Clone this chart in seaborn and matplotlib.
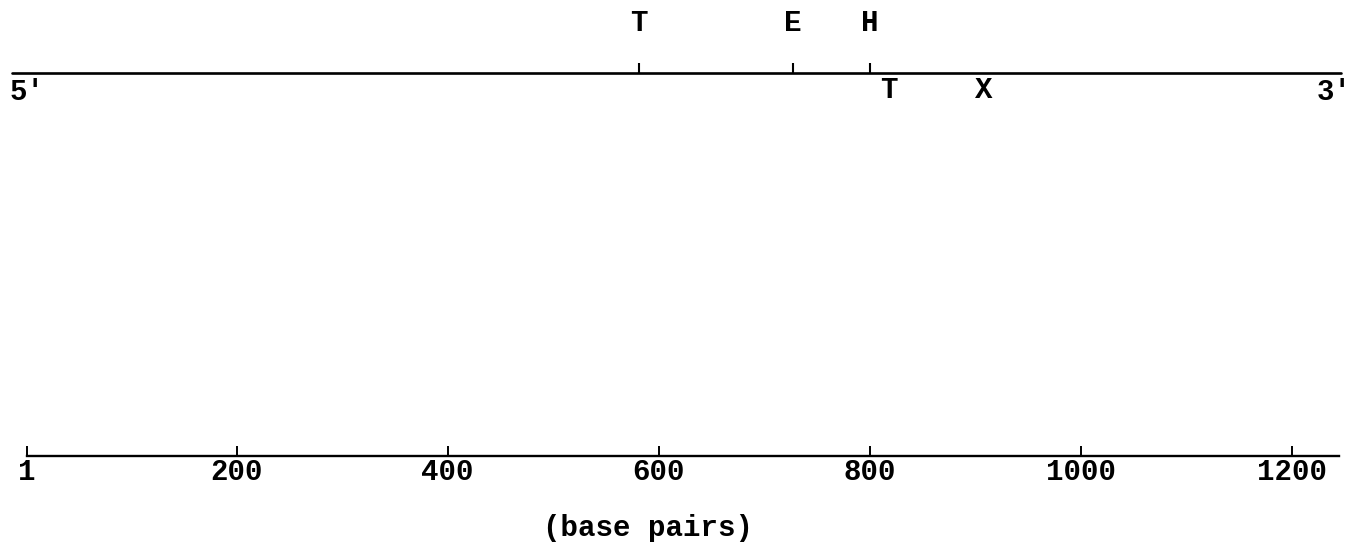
import matplotlib
matplotlib.use("Agg")
import matplotlib.pyplot as plt
import seaborn as sns
import pandas as pd

# ---- data ----
above_labels = ["T", "E", "H"]
above_pos = [581, 727, 800]
below_labels = ["T", "X"]
below_pos = [818, 908]
tick_values = [1, 200, 400, 600, 800, 1000, 1200]
tick_labels = ["1", "200", "400", "600", "800", "1000", "1200"]
map_start = -13
map_end = 1247
axis_start = 1
axis_end = 1245
end5_label = "5'"
end3_label = "3'"
xlabel_text = "(base pairs)"

sns.set_theme(style="white")
FONT = ["Liberation Mono", "DejaVu Sans Mono"]
plt.rcParams["font.family"] = FONT

W, H = 1354, 548
fig = plt.figure(figsize=(W / 100, H / 100), dpi=100)
axis_y_px = 456
ax = fig.add_axes([0, 1 - axis_y_px / H, 1, axis_y_px / H])

# pixel mapping: x_px = 25.7 + 1.055 * bp
x0 = -25.7 / 1.055
x1 = (W - 25.7) / 1.055
ax.set_xlim(x0, x1)
ax.set_ylim(axis_y_px, 0)

line_y = 73
map_df = pd.DataFrame({"bp": [map_start, map_end], "y": [line_y, line_y]})
sns.lineplot(data=map_df, x="bp", y="y", ax=ax, color="black", linewidth=1.9)

ax.vlines(above_pos, line_y - 10, line_y, color="black", linewidth=1.5)
for lab, p in zip(above_labels, above_pos):
    ax.text(p, 23, lab, ha="center", va="center", fontsize=21, fontweight="bold",
            color="black")
for lab, p in zip(below_labels, below_pos):
    ax.text(p, 89.5, lab, ha="center", va="center", fontsize=21, fontweight="bold",
            color="black")

ax.text(1, 92, end5_label, ha="center", va="center", fontsize=21,
        fontweight="bold", color="black")
ax.text(1240, 92, end3_label, ha="center", va="center", fontsize=21,
        fontweight="bold", color="black")

# bottom scale axis
for s in ["top", "left", "right"]:
    ax.spines[s].set_visible(False)
ax.spines["bottom"].set_visible(True)
ax.spines["bottom"].set_color("black")
ax.spines["bottom"].set_linewidth(1.7)
ax.spines["bottom"].set_bounds(axis_start, axis_end)
ax.set_xticks(tick_values)
ax.set_xticklabels(tick_labels, fontsize=21, fontweight="bold")
ax.tick_params(axis="x", direction="in", length=7, width=1.4, color="black",
               pad=1.5, bottom=True, labelcolor="black")
ax.set_yticks([])
ax.set_xlabel("")
ax.set_ylabel("")
ax.grid(False)

fig.text(648 / W, 1 - 528 / H, xlabel_text, ha="center", va="center",
         fontsize=21, fontweight="bold", color="black", family=FONT)

fig.savefig("out.png", dpi=100, facecolor="white")
